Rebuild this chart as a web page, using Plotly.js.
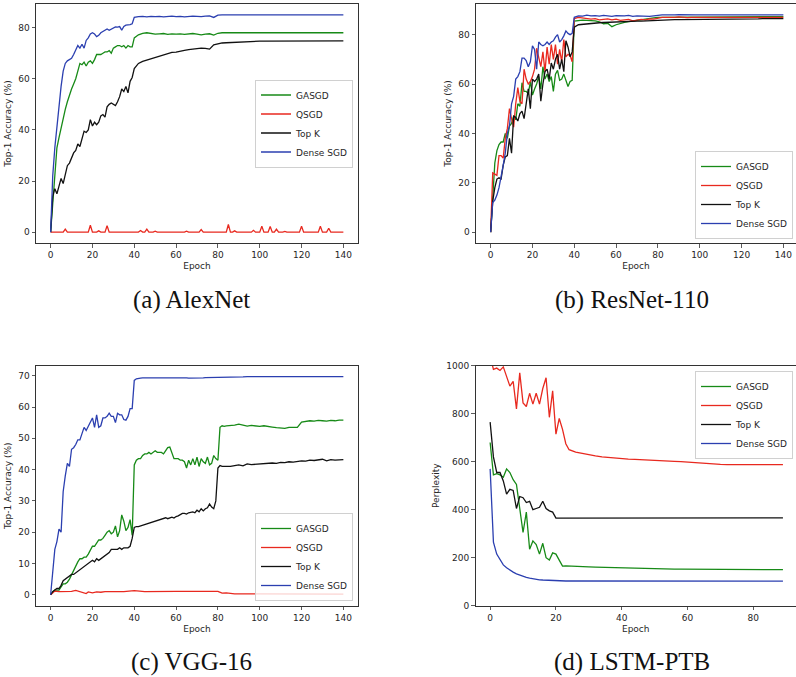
<!DOCTYPE html>
<html><head><meta charset="utf-8">
<script src="https://cdn.plot.ly/plotly-3.0.1.min.js"></script>
<style>html,body{margin:0;padding:0;background:#fff}#chart{width:796px;height:677px}</style>
</head><body><div id="chart"></div>
<script>
const seriesNames = ['GASGD', 'QSGD', 'Top K', 'Dense SGD'];
const seriesColors = ['#178a17', '#e8291f', '#111111', '#2b3fb0'];
const captions = ['(a) AlexNet', '(b) ResNet-110', '(c) VGG-16', '(d) LSTM-PTB'];
const yTitles = ['Top-1 Accuracy (%)', 'Top-1 Accuracy (%)', 'Top-1 Accuracy (%)', 'Perplexity'];
const xTitle = 'Epoch';

// ---------- (a) AlexNet ----------
const epochsA = [0,1,2,3,4,5,6,7,8,9,10,11,12,13,14,15,16,17,18,19,20,21,22,23,24,25,26,27,28,29,30,31,32,33,34,35,36,37,38,39,40,
  42,44,46,48,50,52,54,56,58,60,62,64,66,68,70,72,74,76,78,80,82,84,86,88,90,92,94,96,98,100,102,104,106,108,110,112,114,116,118,120,122,124,126,128,130,132,134,136,138,140];
const gasgdA = [0,12,21,33,37,41,45,48,51,54,
  56,58,60,63,66,65.5,66.5,65,66.5,67,
  66,67.5,69.5,69.5,69.5,70,70.5,70.5,71,70,
  72,72.5,73,73,72.5,73,72,73,72.5,72.5,
  76,
  77.2,77.8,78,77.8,77.5,77.6,77.7,77.4,77.6,77.5,
  77.6,77.4,77.5,77.7,77.5,77.2,77.5,77.6,77.1,77.8,
  78,78,78.1,78,78,78.1,78,78.2,78,78,
  78,78.1,78,78,78,78,78.1,78,78,78,
  78,78.1,78,78,78,78,78,78,78,78];
const topkA = [0,14,17,15,18,21,19,23,26,27,
  29,31,32,34.5,33.5,37,39.5,39,40,44,
  41.5,43,42,43,45.5,46,45,49,50,50.5,
  50,49.5,51,53,56,55,57,54.5,59,60.5,
  64,
  66,66.8,67.3,68,68.3,68.8,69.2,69.8,70.3,70.4,
  70.9,71.1,71.4,71.6,71.8,72,71.9,71.6,73.3,73.8,
  74,74.1,74.2,74.3,74.4,74.5,74.5,74.6,74.6,74.7,
  74.7,74.7,74.7,74.8,74.8,74.8,74.8,74.8,74.8,74.8,
  74.8,74.8,74.8,74.8,74.8,74.8,74.8,74.8,74.8,74.8];
const denseA = [0,22,33,42,50,57,63,66,67,67.5,
  68,69.5,71,73,72,73.5,72,75,76,77.5,
  78,77.5,76.5,77,78,78.5,79,79.5,79,79.5,
  80,80.3,80.2,80.4,79,80.5,81,81,81.2,81.5,
  84,
  84.3,84.4,84.2,84.4,84.3,84.4,84.2,84.3,84.5,84.3,
  84.4,84.2,84.4,84.5,84.4,84.3,84.5,84.6,84.0,84.9,
  85.0,85.0,85.1,85.0,84.9,85.0,85.0,84.9,85.1,85.0,
  85.0,84.9,85.0,85.0,85.1,85.0,84.9,85.0,85.1,85.0,
  85.0,85.1,85.0,84.9,85.0,85.1,85.0,85.0,85.0,85.0];
const qsgdEpochsA = [0,6,7,8,18,19,20,22,23,24,26,27,28,42,43,44,45,46,47,49,50,51,64,65,66,71,72,73,84,85,86,87,88,89,96,97,98,100,101,102,104,105,106,107,108,109,111,112,113,119,120,121,128,129,130,132,133,134,140];
const qsgdA = [0,0,1.2,0,0,2.7,0,0,0.5,0,0,2.5,0,0,0.6,0,0,1.2,0,0,0.4,0,0,0.4,0,0,1,0,0,3,0,0,0.5,0,0,0.7,0,0,2.3,0,0,2.2,0,0,1.2,0,0,0.3,0,0,2.3,0,0,2.3,0,0,1.5,0,0];

// ---------- (b) ResNet-110 ----------
const epochsB = epochsA.slice();
const gasgdB = [0,16,28,33,35.5,36.5,36.5,40,38,43,
  44,47,45.5,52,51,60.5,57,57,56,61,
  55.5,58,60,63,58,67,62,64,61,63,
  57,64,65.5,61.5,62,64,61.5,59,61,61.5,
  85.5,
  85.8,85.9,85.8,85.7,85.6,85.2,84.4,84.6,83.2,84.0,
  84.6,85,85.3,85.6,85.8,86,86.2,86.5,86.8,87,
  87,87.1,87.2,87.1,87.2,87.3,87.2,87.2,87.3,87.3,
  87.2,87.3,87.3,87.3,87.3,87.2,87.3,87.3,87.3,87.3,
  87.3,87.3,87.3,87.3,87.3,87.3,87.3,87.3,87.3,87.3];
const qsgdB = [0,24,23.5,23,31,31,30,38,42,50,
  46,42.5,52,58.5,53,52,66,62,60,61,
  63,66,74.5,70,67,73,65,75,68,76,
  70,76,68,74,69,78,71,72,71.5,69,
  86.5,
  87,86.8,86.5,86.3,86.5,86,86.2,86.4,86,86.3,
  85.8,86,86.2,85.6,86,86.2,86,86.4,86.3,86.8,
  87,87,86.9,87,87.2,87,86.9,87,87,87.1,
  87,86.8,86.9,87,87,87,86.9,87,87,87,
  87,87,87,87,87,87,87,87,86.9,87];
const topkB = [0,12.5,18,21.5,22,21.5,27,30.5,31,38,
  32,47,46.5,45,48,49,46,52,58,50,
  62,61,62,64,53,60,65,66,62,68.5,
  66,70,72,66,70,65,77.5,75,71,73,
  83,
  84,84.2,84.5,84.6,84.7,84.8,84.9,85,85,85.1,
  85.2,85.3,85.3,85.4,85.5,85.5,85.6,85.7,85.8,85.9,
  86,86,86,86.1,86.1,86.1,86.2,86.2,86.2,86.2,
  86.3,86.3,86.3,86.3,86.3,86.4,86.4,86.4,86.4,86.4,
  86.4,86.4,86.4,86.4,86.5,86.5,86.5,86.5,86.5,86.5];
const denseB = [0,12,13,15,18,22,27,32,40,43,
  52,55,62,63,65,70.5,70.5,69.5,67,69,
  75.5,74,66,77,76,75.5,76,77,76,77,
  77.5,79,80,77,78,79.5,81.5,80.5,80,80.5,
  87,
  87.6,87.5,87.9,87.6,87.7,87.5,87.8,87.6,87.4,87.7,
  87.5,87.6,87.8,87.4,87.6,87.5,87.7,87.4,87.6,87.9,
  88,88,87.9,88,88.1,88,88,88,88,88,
  88,88,88,87.9,88,88,88,88,88,88,
  88,88,88,88,88,88,88,88,88,88];

// ---------- (c) VGG-16 ----------
const epochsC = [0,1,2,3,4,5,6,7,8,9,10,11,12,13,14,15,16,17,18,19,20,21,22,23,24,25,26,27,28,29,30,31,32,33,34,35,36,37,38,39,
  40,41,42,43,44,45,46,47,48,49,50,51,52,53,54,55,56,57,58,59,60,61,62,63,64,65,66,67,68,69,70,71,72,73,74,75,76,77,78,79,80,81,82,83,84,
  86,88,90,92,94,96,98,100,102,104,106,108,110,112,114,116,118,120,122,124,126,128,130,132,134,136,138,140];
const gasgdC = [0,1,1.5,1.5,1.5,2.5,3.5,3.5,4,5,
  6.5,7.5,9,10.5,11.5,11.5,12,12,13,14.5,
  15.5,15.5,16.5,17.5,17.5,18,19,20,20.5,19.5,
  20,22,18.5,20.5,25.5,23.5,20.5,21.5,24,19,
  41.5,43,43.5,43.5,44.5,45,45,45.5,45,45.5,
  46,45.5,45.5,45.5,45,46,47,47.2,45,43.5,
  43.5,43.5,43,43,42.5,40.5,43,41.5,43.5,41.5,
  44,41,43.5,42.5,42,44,41.5,42,44.5,43.5,
  43,53.5,54,53.8,54,
  54,54.2,54.5,54.3,53.9,54.1,54,53.8,54,53.7,
  53.6,53.4,53.3,53.2,53.5,53.4,53.5,55.2,55.4,55.6,
  55.5,55.7,55.6,55.5,55.7,55.6,55.8,55.8];
const topkC = [0,1,1.5,2,2,3,4.5,5,5.5,6,
  6.5,6.5,7,7.5,8,8.5,9,9.5,10,10.5,
  11,10.5,11.5,11,11.5,12,12.5,13,13.5,14.5,
  14.5,14.5,14.5,15,14.5,15,15,15,15.5,18,
  21.5,21.8,21.8,22,22.3,22.5,22.8,23,23,23.3,
  23.5,23.8,24,24,24.2,24.6,24.3,24.6,24.8,24.5,
  25,25.2,25.5,26,26,25.8,26.2,26.3,26.5,26.2,
  27,26.5,27.5,26.8,27.5,27.8,29,28,27.5,30,
  40.5,41.3,41,41,41,
  41,41.3,41.5,41.2,41.8,41.6,41.7,41.8,42,42.1,
  42.1,42,42.3,42.2,42.5,42.4,42.6,42.8,42.7,43,
  42.9,43.1,43.3,42.8,43.2,43,43.1,43.2];
const denseC = [0,8,14.5,17,21,20,33,38,42,41,
  46.5,47,48,49.5,49.5,51.5,53.5,52.5,54,55.5,
  56.5,53.5,57.5,53.5,54,56.5,56.5,57,58,57,
  57,55,58,57.5,57.5,56,55.8,57,59.5,59.5,
  68.5,69,69.2,69.2,69.3,69.3,69.4,69.4,69.5,69.4,
  69.4,69.4,69.4,69.5,69.5,69.5,69.4,69.5,69.5,69.4,
  69.4,69.4,69.3,69.3,69.3,69.3,69.2,69.2,69.1,69.1,
  69.2,69.2,69.3,69.3,69.4,69.4,69.4,69.5,69.5,69.5,
  69.6,69.6,69.6,69.6,69.6,
  69.6,69.6,69.6,69.6,69.7,69.7,69.7,69.7,69.7,69.7,
  69.7,69.7,69.7,69.7,69.7,69.7,69.7,69.7,69.7,69.7,
  69.7,69.7,69.7,69.7,69.7,69.7,69.7,69.7];
const qsgdEpochsC = [0,2,4,6,8,10,12,14,16,17,18,20,22,24,26,28,30,35,40,45,50,55,60,65,70,75,80,82,84,88,92,96,100,104,108,112,116,120,124,128,132,136,140];
const qsgdC = [0,1.2,1.0,1.0,0.9,1.1,1.4,1.0,0.6,0.4,0.9,0.6,0.9,0.8,1.0,0.9,1.0,1.0,1.3,1.0,1.1,1.0,1.1,1.1,1.1,1.1,1.1,0.5,0.6,0.3,0.3,0.2,0.2,0.4,0.2,0.2,0.2,0.2,0.2,0.2,0.2,0.2,0.2];

// ---------- (d) LSTM-PTB ----------
const epochsD = [0,1,2,3,4,5,6,7,8,9,10,11,12,13,14,15,16,17,18,19,20,21,22,23,24,
  26,28,30,32,34,36,38,40,42,44,46,48,50,52,54,56,58,60,62,64,66,68,70,72,74,76,78,80,82,84,86,88,89];
const gasgdD = [680,545,550,545,535,570,555,525,505,400,
  305,390,235,270,255,215,260,200,190,220,
  215,190,165,166,165,
  164,163,162,161,160,159,158,157,157,156,
  155,154,154,153,153,152,152,152,151,151,
  151,151,151,151,150,150,150,150,150,150,
  150,150,150];
const qsgdD = [1040,985,990,980,995,950,915,935,820,970,
  845,830,885,840,885,840,905,950,785,895,
  715,780,735,675,650,
  640,634,627,624,620,617,615,612,611,610,
  608,606,604,603,602,601,600,598,594,592,
  591,590,589,588,588,588,587,587,587,587,
  587,587,588];
const topkD = [765,620,555,555,520,465,485,480,405,455,
  450,430,435,400,405,410,435,405,395,390,
  365,365,365,365,365,
  365,365,365,365,365,366,366,366,366,366,
  367,367,366,366,366,366,366,366,365,365,
  365,365,365,365,365,365,365,365,365,365,
  365,364,366];
const denseD = [570,265,215,190,170,158,148,140,133,127,
  122,118,115,112,110,108,107,106,105,105,
  105,104,104,103,103,
  103,103,103,103,102,102,102,102,102,102,
  102,102,102,102,102,102,102,102,102,102,
  102,102,102,102,102,102,102,102,102,102,
  102,102,102];

// ---------- assemble ----------
const panels = [
  {xs: [epochsA, qsgdEpochsA, epochsA, epochsA], ys: [gasgdA, qsgdA, topkA, denseA], xa: 'x', ya: 'y', legend: 'legend'},
  {xs: [epochsB, epochsB, epochsB, epochsB], ys: [gasgdB, qsgdB, topkB, denseB], xa: 'x2', ya: 'y2', legend: 'legend2'},
  {xs: [epochsC, qsgdEpochsC, epochsC, epochsC], ys: [gasgdC, qsgdC, topkC, denseC], xa: 'x3', ya: 'y3', legend: 'legend3'},
  {xs: [epochsD, epochsD, epochsD, epochsD], ys: [gasgdD, qsgdD, topkD, denseD], xa: 'x4', ya: 'y4', legend: 'legend4'}
];
const traces = [];
panels.forEach(p => {
  for (let i = 0; i < 4; i++) {
    traces.push({
      type: 'scatter', mode: 'lines', name: seriesNames[i],
      x: p.xs[i], y: p.ys[i], xaxis: p.xa, yaxis: p.ya, legend: p.legend,
      line: {color: seriesColors[i], width: 1.3}, showlegend: true
    });
  }
});

const W = 796, H = 677;
const tickFont = {family: 'DejaVu Sans', size: 9, color: '#262626'};
function xAxis(l, r, range, anchor) {
  return {domain: [l / W, Math.min(r / W, 1)], range: range, anchor: anchor, dtick: 20, tick0: 0,
    ticks: 'outside', ticklen: 3.5, tickwidth: 0.8, tickcolor: '#333',
    showline: true, linecolor: '#333', linewidth: 1, mirror: true,
    showgrid: false, zeroline: false, tickfont: tickFont,
    title: {text: xTitle, font: tickFont, standoff: 3}};
}
function yAxis(t, b, range, dtick, anchor, mirror, title) {
  return {domain: [1 - b / H, 1 - t / H], range: range, anchor: anchor, dtick: dtick, tick0: 0,
    ticks: 'outside', ticklen: 3.5, tickwidth: 0.8, tickcolor: '#333',
    showline: true, linecolor: '#333', linewidth: 1, mirror: mirror,
    showgrid: false, zeroline: false, tickfont: tickFont,
    title: {text: title, font: tickFont, standoff: 5}};
}
const legendStyle = {bgcolor: 'rgba(255,255,255,0.8)', bordercolor: '#d0d0d0', borderwidth: 1,
  font: {family: 'DejaVu Sans', size: 9, color: '#262626'}};
const capFont = {family: 'Liberation Serif', size: 25, color: '#111'};
const capPos = [[191.7, 300], [631.7, 300], [191.7, 661.7], [631.7, 661.7]];

const layout = {
  width: W, height: H, margin: {l: 0, r: 0, t: 0, b: 0},
  paper_bgcolor: '#fff', plot_bgcolor: '#fff', showlegend: true,
  xaxis: xAxis(36, 358, [-7, 147], 'y'),
  yaxis: yAxis(4, 243, [-4.25, 89.25], 20, 'x', true, yTitles[0]),
  xaxis2: xAxis(476, 796, [-7, 146.04], 'y2'),
  yaxis2: yAxis(4, 243, [-4.4, 92.4], 20, 'x2', false, yTitles[1]),
  xaxis3: xAxis(36, 358, [-7, 147], 'y3'),
  yaxis3: yAxis(365.7, 605.7, [-3.5, 73.2], 10, 'x3', true, yTitles[2]),
  xaxis4: xAxis(475.5, 796, [-4.45, 92.97], 'y4'),
  yaxis4: yAxis(365.7, 605.7, [0, 1000], 200, 'x4', false, yTitles[3]),
  legend: Object.assign({x: 353 / W, xanchor: 'right', y: 1 - 123.5 / H, yanchor: 'middle'}, legendStyle),
  legend2: Object.assign({x: 793 / W, xanchor: 'right', y: 1 - 239 / H, yanchor: 'bottom'}, legendStyle),
  legend3: Object.assign({x: 353 / W, xanchor: 'right', y: 1 - 601 / H, yanchor: 'bottom'}, legendStyle),
  legend4: Object.assign({x: 793 / W, xanchor: 'right', y: 1 - 371 / H, yanchor: 'top'}, legendStyle),
  annotations: captions.map((c, i) => ({text: c, xref: 'paper', yref: 'paper',
    x: capPos[i][0] / W, y: 1 - capPos[i][1] / H, xanchor: 'center', yanchor: 'middle',
    showarrow: false, font: capFont}))
};
Plotly.newPlot('chart', traces, layout, {displayModeBar: false, staticPlot: true});
</script></body></html>
